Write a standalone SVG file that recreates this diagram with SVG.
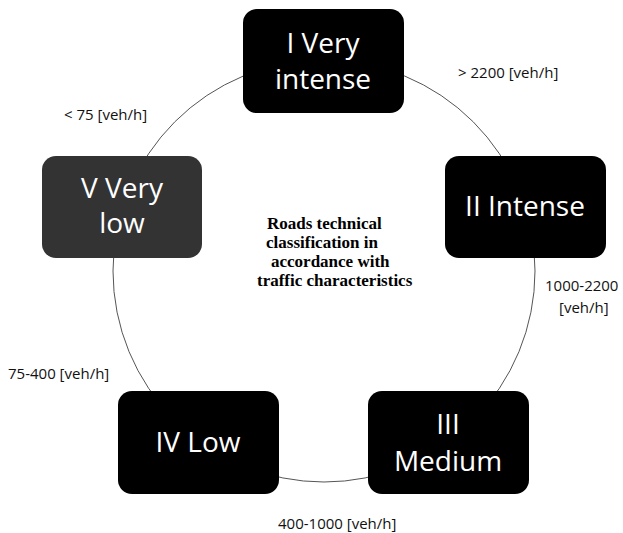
<svg xmlns="http://www.w3.org/2000/svg" width="623" height="533" viewBox="0 0 623 533">
<style>
.box{fill:#000;}
.box.dark{fill:#333333;}
.bt{font-family:"Open Sans","Noto Sans",sans-serif;font-size:28px;fill:#fff;text-anchor:middle;}
.lbl{font-family:"Open Sans","Noto Sans",sans-serif;font-size:15px;fill:#111;}
.title{font-family:"Liberation Serif","Times New Roman",serif;font-size:17px;font-weight:bold;fill:#000;}
.conn{fill:none;stroke:#555;stroke-width:1;}
</style>
<rect width="623" height="533" fill="#fff"/>
<g id="connectors">
<circle class="conn" cx="324" cy="271" r="211"/>
</g>
<g id="node-I">
<rect class="box" x="243" y="9" width="161" height="104" rx="14"/>
<text class="bt" x="323" y="53">I Very</text>
<text class="bt" x="323" y="89">intense</text>
</g>
<g id="node-II">
<rect class="box" x="445" y="156" width="161" height="102" rx="14"/>
<text class="bt" x="525" y="216">II Intense</text>
</g>
<g id="node-III">
<rect class="box" x="368" y="391" width="161" height="103" rx="14"/>
<text class="bt" x="448" y="434">III</text>
<text class="bt" x="448" y="471">Medium</text>
</g>
<g id="node-IV">
<rect class="box" x="118" y="391" width="161" height="103" rx="14"/>
<text class="bt" x="198" y="452">IV Low</text>
</g>
<g id="node-V">
<rect class="box dark" x="42" y="156" width="160" height="102" rx="14"/>
<text class="bt" x="122" y="198">V Very</text>
<text class="bt" x="122" y="233">low</text>
</g>
<g id="labels">
<text class="lbl" x="458" y="78">&gt; 2200 [veh/h]</text>
<text class="lbl" x="64" y="120">&lt; 75 [veh/h]</text>
<text class="lbl" x="545" y="291">1000-2200</text>
<text class="lbl" x="559" y="313">[veh/h]</text>
<text class="lbl" x="8" y="379">75-400 [veh/h]</text>
<text class="lbl" x="278" y="529">400-1000 [veh/h]</text>
</g>
<g id="title">
<text class="title" x="267" y="229">Roads technical</text>
<text class="title" x="266" y="248">classification in</text>
<text class="title" x="271" y="267">accordance with</text>
<text class="title" x="257" y="286">traffic characteristics</text>
</g>
</svg>
